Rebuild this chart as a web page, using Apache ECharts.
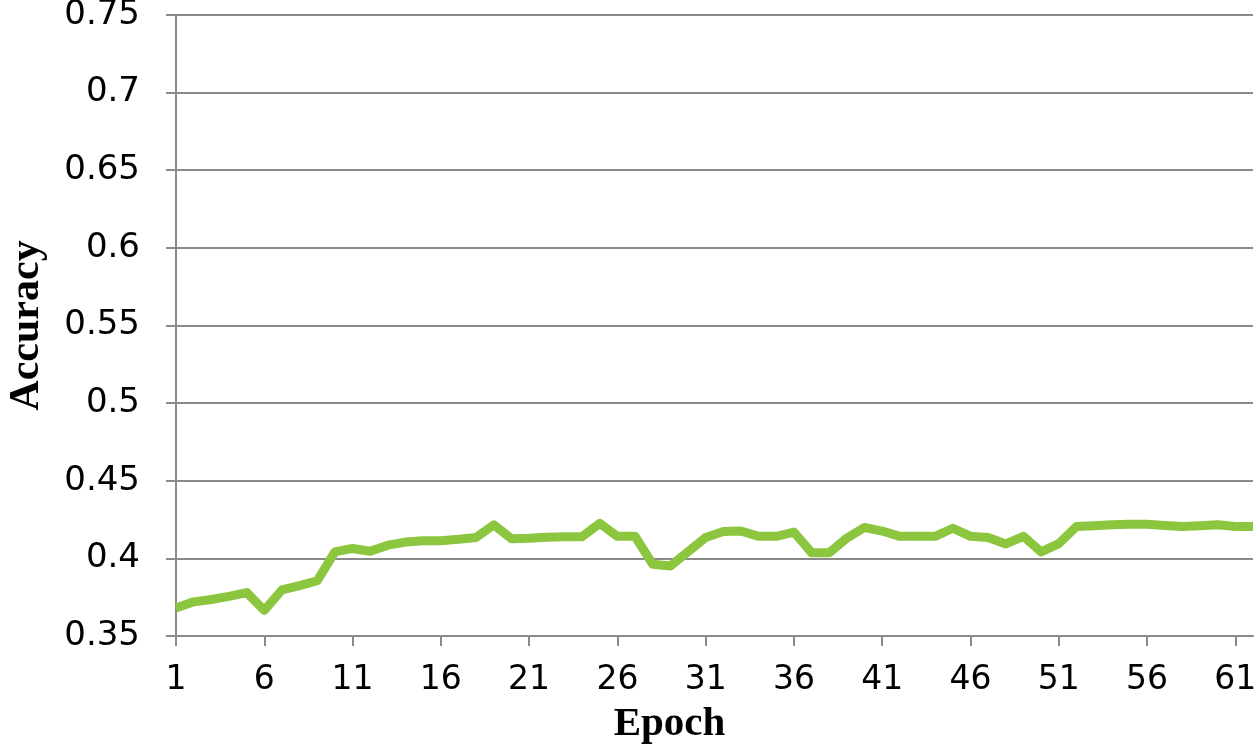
<!DOCTYPE html>
<html>
<head>
<meta charset="utf-8">
<script src="https://cdn.jsdelivr.net/npm/echarts@6/dist/echarts.min.js"></script>
<style>
html,body{margin:0;padding:0;background:#fff;}
#chart{width:1260px;height:748px;}
</style>
</head>
<body>
<div id="chart"></div>
<script>
// Data
const epochs = [];
for (let i = 1; i <= 62; i++) epochs.push(String(i));
const accuracy = [
  0.368, 0.372, 0.3735, 0.3755, 0.378, 0.3665, 0.3797, 0.3824, 0.3856, 0.4042,
  0.4064, 0.4046, 0.4085, 0.4105, 0.4114, 0.4114, 0.4123, 0.4135, 0.4216, 0.4127,
  0.413, 0.4136, 0.414, 0.414, 0.4226, 0.4142, 0.4142, 0.3962, 0.3951, 0.4042,
  0.4135, 0.4173, 0.4176, 0.4142, 0.4142, 0.4169, 0.4036, 0.4036, 0.4131, 0.4199,
  0.4176, 0.4142, 0.4142, 0.4142, 0.4194, 0.4142, 0.4135, 0.4093, 0.4142, 0.4042,
  0.4095, 0.4205, 0.421, 0.4216, 0.422, 0.422, 0.4212, 0.4205, 0.421, 0.4216,
  0.4205, 0.4205
];
const yMin = 0.35, yMax = 0.75, yStep = 0.05;

const gray = '#8a8a8a';
const chart = echarts.init(document.getElementById('chart'));
chart.setOption({
  animation: false,
  backgroundColor: '#ffffff',
  grid: { left: 176, right: 7, top: 15, bottom: 112, containLabel: false, outerBoundsMode: 'none' },
  xAxis: {
    type: 'category',
    data: epochs,
    boundaryGap: false,
    name: 'Epoch',
    nameLocation: 'middle',
    nameGap: 68,
    nameTextStyle: {
      fontFamily: '"Liberation Serif", "Times New Roman", serif',
      fontWeight: 'bold', fontSize: 41, color: '#000',
      padding: [0, 90, 0, 0]
    },
    axisLine: { lineStyle: { color: gray, width: 2 } },
    axisTick: { interval: 4, length: 10, lineStyle: { color: gray, width: 2 } },
    axisLabel: {
      interval: 4, margin: 28,
      fontFamily: '"DejaVu Sans", sans-serif', fontSize: 33, color: '#000'
    },
    splitLine: { show: false }
  },
  yAxis: {
    type: 'value',
    min: yMin, max: yMax, interval: yStep,
    name: 'Accuracy',
    nameLocation: 'middle',
    nameGap: 128,
    nameRotate: 90,
    nameTextStyle: {
      fontFamily: '"Liberation Serif", "Times New Roman", serif',
      fontWeight: 'bold', fontSize: 42, color: '#000'
    },
    axisLine: { show: true, lineStyle: { color: gray, width: 2 } },
    axisTick: { show: true, length: 10, lineStyle: { color: gray, width: 2 } },
    axisLabel: {
      margin: 36,
      fontFamily: '"DejaVu Sans", sans-serif', fontSize: 34, color: '#000',
      formatter: v => String(parseFloat(v.toFixed(2)))
    },
    splitLine: { show: true, lineStyle: { color: gray, width: 2 } }
  },
  series: [{
    type: 'line',
    data: accuracy,
    symbol: 'none',
    lineStyle: { color: '#8cc63f', width: 9, join: 'round' },
    itemStyle: { color: '#8cc63f' }
  }]
});
</script>
</body>
</html>
